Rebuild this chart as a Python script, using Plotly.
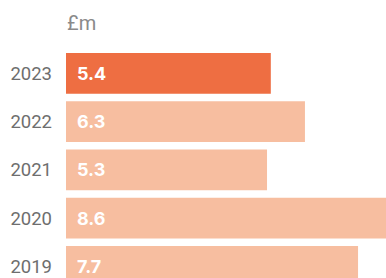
import plotly.graph_objects as go

years = ["2023", "2022", "2021", "2020", "2019"]
values = [5.4, 6.3, 5.3, 8.6, 7.7]
bar_colors = ["#EE6E42", "#F7BEA0", "#F7BEA0", "#F7BEA0", "#F7BEA0"]
unit_label = "£m"

fig = go.Figure()
fig.add_trace(go.Bar(
    x=values, y=years, orientation="h",
    marker=dict(color=bar_colors, line=dict(width=0)),
    hoverinfo="skip",
))

for i, v in enumerate(values):
    fig.add_annotation(
        x=0, y=i, xref="x", yref="y", text=f"<b>{v:.1f}</b>",
        showarrow=False, xanchor="left", yanchor="middle", xshift=9,
        font=dict(family="Inter", size=18, color="white"),
    )

fig.add_annotation(
    x=0, y=1, xref="paper", yref="paper", text=unit_label,
    showarrow=False, xanchor="left", yanchor="bottom", yshift=12, xshift=-1,
    font=dict(family="Roboto", size=20, color="#8a8a8a"),
)

fig.update_layout(
    width=386, height=278,
    margin=dict(l=66, r=0, t=49, b=0),
    paper_bgcolor="white", plot_bgcolor="white",
    bargap=0.156,
    showlegend=False,
    xaxis=dict(range=[0, 8.437], visible=False, fixedrange=True),
    yaxis=dict(
        type="category", categoryorder="array", categoryarray=years,
        range=[4.2415, -0.5047], showgrid=False, zeroline=False, showline=False,
        ticks="", ticklabelstandoff=13,
        tickfont=dict(family="Roboto", size=18.5, color="#6e6e6e"),
        fixedrange=True,
    ),
)

fig.write_html(
    "out.html",
    config={"displayModeBar": False},
    post_script="document.body.style.margin='0';document.body.style.overflow='hidden';",
)
